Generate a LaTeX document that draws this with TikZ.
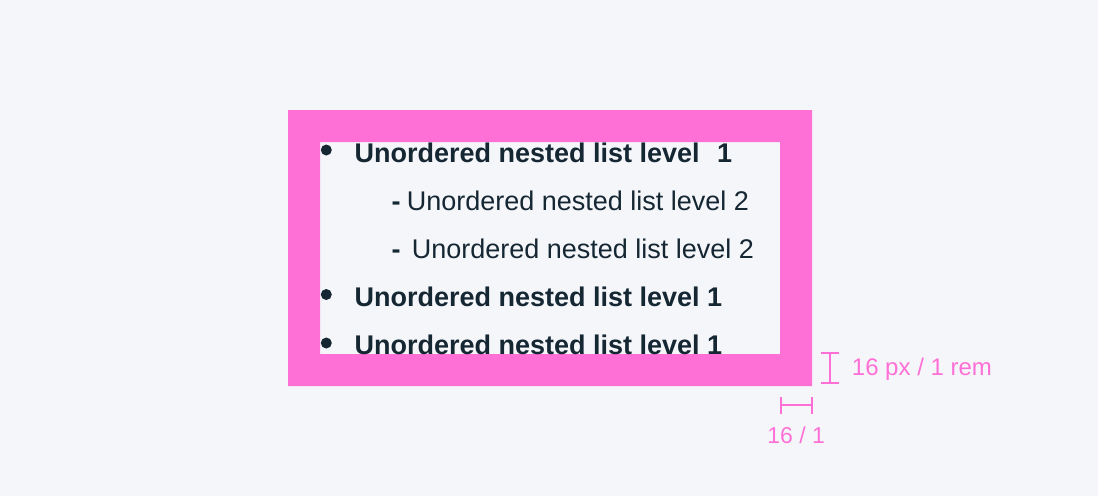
\documentclass[tikz,border=0pt]{standalone}
\usepackage{fontspec}
\setmainfont{Liberation Sans}
\definecolor{bgc}{HTML}{F5F6FA}
\definecolor{pinkc}{HTML}{FF70D6}
\definecolor{inkc}{HTML}{152733}
\tikzset{
  lvlone/.style={anchor=base west, inner sep=0pt, text=inkc, font=\fontsize{27}{32}\selectfont\bfseries},
  lvltwo/.style={anchor=base west, inner sep=0pt, text=inkc, font=\fontsize{27}{32}\selectfont},
  dashmark/.style={anchor=base west, inner sep=0pt, text=inkc, font=\fontsize{27}{32}\selectfont\bfseries},
  bulletdot/.style={circle, fill=inkc, inner sep=0pt, minimum size=11pt},
  dimlabel/.style={anchor=base west, inner sep=0pt, text=pinkc},
  dimline/.style={draw=pinkc, line width=2pt}
}
\begin{document}
\begin{tikzpicture}[x=1pt,y=-1pt]
\useasboundingbox (0,0) rectangle (1098,496);
\fill[bgc] (0,0) rectangle (1098,496);
% frame
\fill[pinkc, even odd rule] (288,110) rectangle (812,386) (320,142) rectangle (780,354);
% list
\node[bulletdot] (b1) at (326.3,150) {};
\node[lvlone] (t1) at (354.4,162) {Unordered nested list level\hspace{0.65em}1};
\node[dashmark] (d2) at (391.3,210) {-};
\node[lvltwo] (t2) at (406.6,210) {Unordered nested list level 2};
\node[dashmark] (d3) at (391.3,258) {-};
\node[lvltwo] (t3) at (411.6,258) {Unordered nested list level 2};
\node[bulletdot] (b4) at (326.3,294.5) {};
\node[lvlone] (t4) at (354.4,306) {Unordered nested list level 1};
\node[bulletdot] (b5) at (326.3,343) {};
\node[lvlone] (t5) at (354.4,354) {Unordered nested list level 1};
% dimensions
\coordinate (v1) at (830,353);
\coordinate (v2) at (830,383);
\draw[dimline] (v1) -- (v2);
\draw[dimline] (821,353) -- (839,353);
\draw[dimline] (821,383) -- (839,383);
\coordinate (h1) at (781,405);
\coordinate (h2) at (812,405);
\draw[dimline] (h1) -- (h2);
\draw[dimline] (781,397) -- (781,414);
\draw[dimline] (812,397) -- (812,414);
\node[dimlabel, font=\fontsize{24}{28}\selectfont] (l1) at (851.7,375) {16 px / 1 rem};
\node[dimlabel, font=\fontsize{23}{27}\selectfont] (l2) at (767.1,443.3) {16 / 1};
\end{tikzpicture}
\end{document}
